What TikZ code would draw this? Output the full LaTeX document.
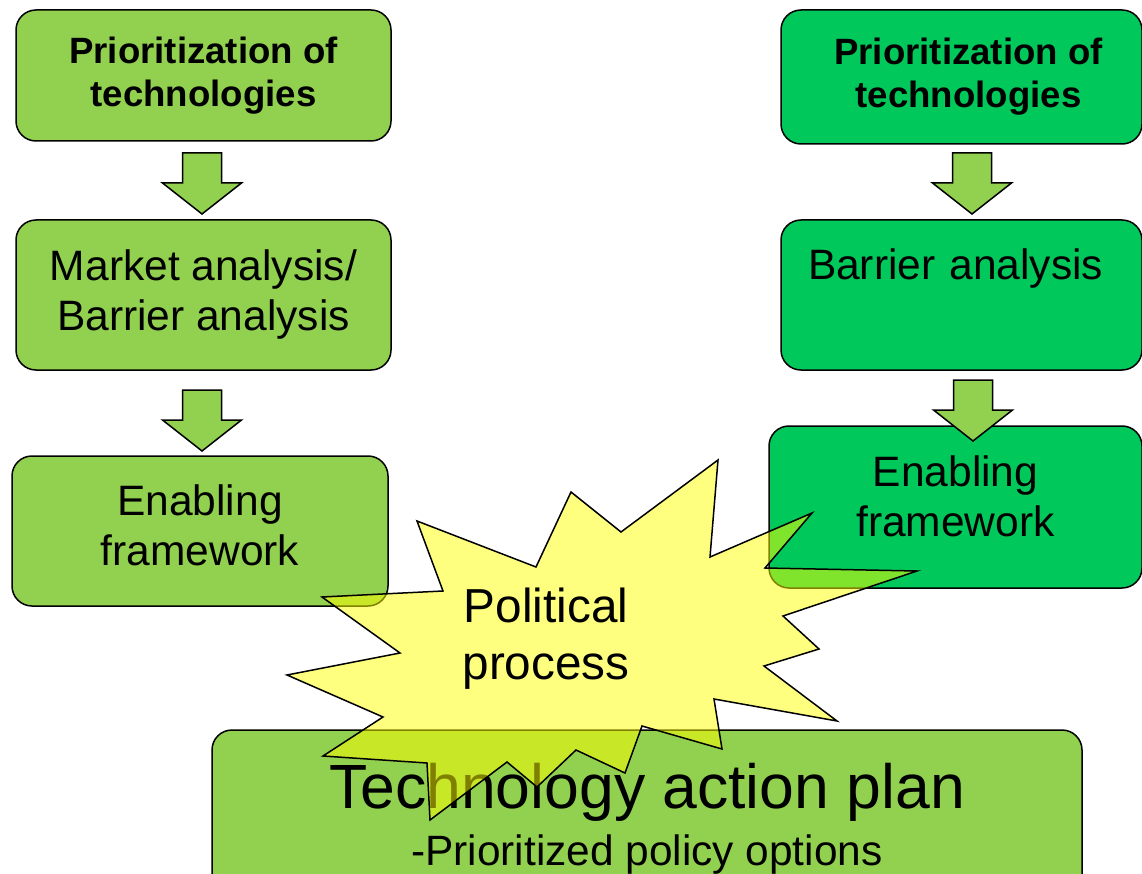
\documentclass[tikz,border=0pt]{standalone}
\usepackage{fontspec}
\setmainfont{Liberation Sans}
\definecolor{leafgreen}{RGB}{146,208,80}
\definecolor{brightgreen}{RGB}{0,200,90}
\definecolor{burstyellow}{RGB}{255,255,0}
\tikzset{
  stagebox/.style={draw=black, line width=1.5pt, rounded corners=20pt, align=center, inner sep=0pt},
  headfont/.style={font=\fontsize{36.6}{43}\selectfont\bfseries},
  bodyfont/.style={font=\fontsize{42.5}{50}\selectfont},
  pics/blockdown/.style={code={
    \draw[line width=1.5pt, fill=leafgreen, line join=miter]
      (-19.5,0) -- (19.5,0) -- (19.5,30) -- (39.5,30) -- (0,61)
      -- (-39.5,30) -- (-19.5,30) -- cycle;}}
}
\begin{document}
\begin{tikzpicture}[x=1pt,y=-1pt]
  \useasboundingbox (0,0) rectangle (1142,874);
  \clip (0,0) rectangle (1142,874);

  % Drawing left column
  \node (leftprio) [stagebox, headfont, fill=leafgreen, minimum width=375pt, minimum height=131pt] at (203.5,75.5) {Prioritization of\\technologies};%
  \node (leftmarket) [stagebox, bodyfont, fill=leafgreen, minimum width=375pt, minimum height=150pt] at (203.5,295) {Market analysis/\\Barrier analysis};%
  \node (leftenable) [stagebox, bodyfont, fill=leafgreen, minimum width=376pt, minimum height=150pt, text depth=12pt] at (200,531) {Enabling\\framework};%

  % Drawing right column
  \node (rightprio) [stagebox, headfont, fill=brightgreen, minimum width=361pt, minimum height=134pt] at (961.5,77) {\hspace{14pt}Prioritization of\\\hspace{14pt}technologies};%
  \node (rightbarrier) [stagebox, bodyfont, fill=brightgreen, minimum width=361pt, minimum height=150pt, text width=307pt, align=left, text depth=61pt] at (961.5,295) {Barrier analysis};%
  \node (rightenable) [stagebox, bodyfont, fill=brightgreen, minimum width=373pt, minimum height=162pt, text depth=22pt] at (955.5,507) {Enabling\\framework};%

  % Drawing action plan
  \node (plan) [stagebox, fill=leafgreen, minimum width=870pt, minimum height=177pt] at (647,818.5)
    {\fontsize{62.5}{56}\selectfont Technology action plan\\[12pt]\fontsize{42.4}{56}\selectfont -Prioritized policy options};%

  % Drawing block arrows
  \pic (leftstepA) at (202,153) {blockdown};%
  \pic (leftstepB) at (202,390) {blockdown};%
  \pic (rightstepA) at (972,153) {blockdown};%
  \pic (rightstepB) at (973,380) {blockdown};%

  % Drawing burst
  \draw [line width=1.5pt, fill=burstyellow, fill opacity=0.5, line join=miter]
    (417,521) -- (536,567) -- (571,492) -- (621,532) -- (718,460) -- (710,557)
    -- (812,513) -- (765,568) -- (917,571) -- (783,616) -- (819,649) -- (764,666)
    -- (837,721) -- (714,699) -- (722,749) -- (642,726) -- (625,773) -- (576,750)
    -- (537,787) -- (507,762) -- (430,820) -- (427,763) -- (323,756) -- (383,717)
    -- (287,675) -- (400,653) -- (322,597) -- (443,591) -- cycle;%
  \node (politics) [align=center, inner sep=0pt, font=\fontsize{47.7}{57}\selectfont] at (546,639) {Political\\process};%
\end{tikzpicture}
\end{document}
